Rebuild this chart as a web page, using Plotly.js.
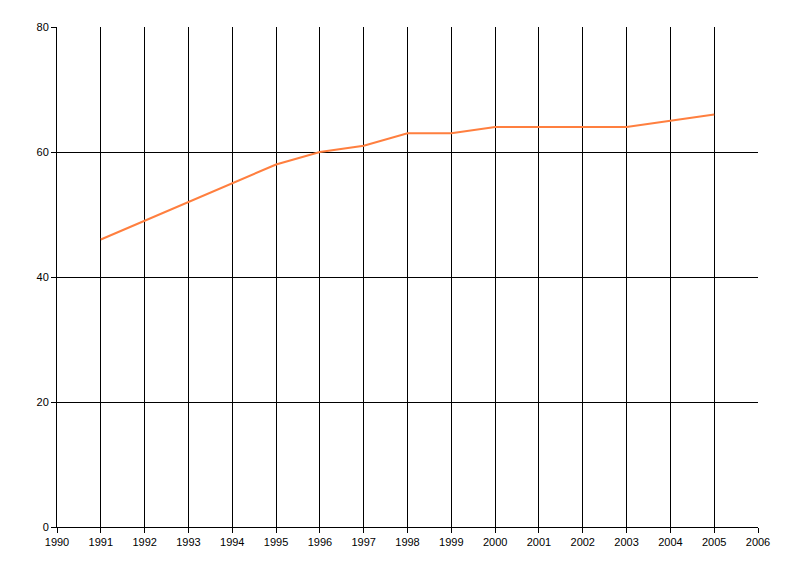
<!DOCTYPE html>
<html>
<head>
<meta charset="utf-8">
<script src="https://cdn.plot.ly/plotly-3.0.1.min.js"></script>
<style>html,body{margin:0;padding:0;background:#fff;}#chart{width:800px;height:576px;}</style>
</head>
<body>
<div id="chart"></div>
<script>
const years = [1991, 1992, 1993, 1994, 1995, 1996, 1997, 1998, 1999, 2000, 2001, 2002, 2003, 2004, 2005];
const values = [46, 49, 52, 55, 58, 60, 61, 63, 63, 64, 64, 64, 64, 65, 66];
const xTicks = [1990,1991,1992,1993,1994,1995,1996,1997,1998,1999,2000,2001,2002,2003,2004,2005,2006];
const yTicks = [0, 20, 40, 60, 80];

const trace = {
  x: years, y: values, type: 'scatter', mode: 'lines',
  line: {color: '#FF7F3F', width: 2},
  hoverinfo: 'skip'
};
const layout = {
  width: 800, height: 576,
  margin: {l: 57, r: 42, t: 27, b: 49},
  paper_bgcolor: '#fff', plot_bgcolor: '#fff',
  showlegend: false,
  font: {family: 'Liberation Sans, Arial, sans-serif', size: 11, color: '#000'},
  xaxis: {
    range: [1990, 2006], tickmode: 'array', tickvals: xTicks, ticktext: xTicks.map(String),
    showgrid: true, gridcolor: '#000', gridwidth: 1,
    showline: true, linecolor: '#000', linewidth: 1, mirror: false,
    ticks: 'outside', ticklen: 5, tickcolor: '#000', zeroline: false,
    tickfont: {size: 11}
  },
  yaxis: {
    range: [0, 80], tickmode: 'array', tickvals: yTicks,
    showgrid: true, gridcolor: '#000', gridwidth: 1,
    showline: true, linecolor: '#000', linewidth: 1,
    ticks: 'outside', ticklen: 5, tickcolor: '#000', zeroline: false,
    tickfont: {size: 11}
  }
};
Plotly.newPlot('chart', [trace], layout, {staticPlot: true, displayModeBar: false});
</script>
</body>
</html>
